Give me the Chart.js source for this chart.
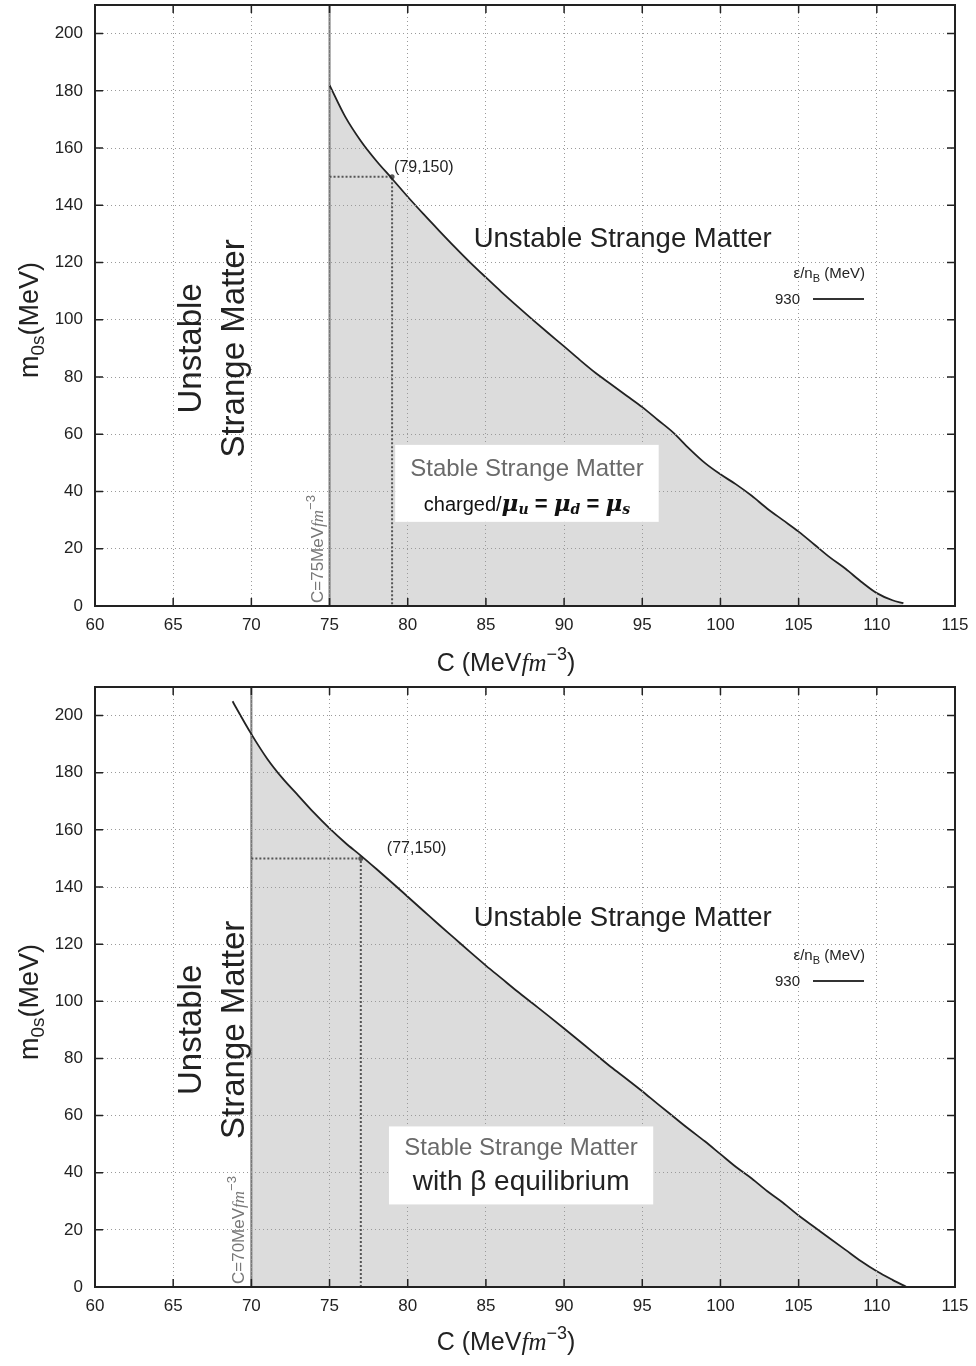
<!DOCTYPE html>
<html lang="en">
<head>
<meta charset="UTF-8">
<title>Strange matter stability window</title>
<script src="https://cdn.jsdelivr.net/npm/chart.js"></script>
<style>
  body { margin: 0; background: #fff; }
  canvas { display: block; }
</style>
</head>
<body>
<canvas id="topChart" width="976" height="683"></canvas>
<canvas id="bottomChart" width="976" height="683"></canvas>
<script>
// axis ticks
const xTicks = [60, 65, 70, 75, 80, 85, 90, 95, 100, 105, 110, 115];
const yTicks = [0, 20, 40, 60, 80, 100, 120, 140, 160, 180, 200];

// upper panel: charged, mu_u = mu_d = mu_s
const topC = [75, 76, 77, 78, 79, 80, 81, 82, 83, 84, 85, 86, 87, 88, 89, 90, 91, 92, 93, 94, 95,
              96, 97, 98, 99, 100, 101, 102, 103, 104, 105, 106, 107, 108, 109, 110, 111, 111.7];
const topM0s = [182, 171, 162.5, 155.5, 149.3, 143, 137, 131.2, 125.5, 120, 114.8, 109.7, 104.8, 100, 95.3, 90.7, 86, 81.5, 77.5, 73.5, 69.5,
                65, 60.5, 55, 50, 46, 42.5, 38.5, 34, 30, 26, 21.5, 17, 13, 8.5, 4.5, 2, 1];
const topThreshold = 75;
const topMarker = [79, 150];

// lower panel: beta equilibrium
const botC = [68.8, 69, 70, 71, 72, 73, 74, 75, 76, 77, 78, 79, 80, 81, 82, 83, 84, 85, 86, 87, 88, 89, 90,
              91, 92, 93, 94, 95, 96, 97, 98, 99, 100, 101, 102, 103, 104, 105, 106, 107, 108, 109, 110, 111, 111.9];
const botM0s = [205, 203, 193.5, 185, 178, 172, 166, 160.5, 155.5, 151, 146.3, 141.5, 136.6, 131.7, 126.8, 122, 117.2, 112.5, 108, 103.5, 99.2, 94.9, 90.5,
                86, 81.5, 77, 72.8, 68.5, 64, 59.6, 55.2, 51, 46.5, 42, 38, 33.5, 29.5, 25, 21, 17, 13, 9, 5.5, 2.5, 0];
const botThreshold = 70;
const botMarker = [77, 150];

const legendValue = '930';

const SANS = '"Liberation Sans", Arial, sans-serif';
const SERIF = '"Liberation Serif", serif';

function drawRich(ctx, segs, x, y, align) {
    let w = 0;
    segs.forEach(s => { ctx.font = s.font; s.w = ctx.measureText(s.text).width; w += s.w; });
    let cx = align === 'center' ? x - w / 2 : align === 'right' ? x - w : x;
    ctx.textAlign = 'left';
    ctx.textBaseline = 'alphabetic';
    segs.forEach(s => {
        ctx.font = s.font;
        ctx.fillStyle = s.color || '#222';
        ctx.fillText(s.text, cx, y + (s.dy || 0));
        cx += s.w;
    });
}

const annotPlugin = {
    id: 'annot',
    afterDraw(chart, args, o) {
        const ctx = chart.ctx, a = chart.chartArea;
        const px = v => chart.scales.x.getPixelForValue(v);
        const py = v => chart.scales.y.getPixelForValue(v);
        ctx.save();

        // white label box
        const bx0 = px(o.box[0]), bx1 = px(o.box[1]), by0 = py(o.box[2]), by1 = py(o.box[3]);
        ctx.fillStyle = '#fff';
        ctx.fillRect(bx0, by0, bx1 - bx0, by1 - by0);
        const bcx = (bx0 + bx1) / 2;
        drawRich(ctx, [{ text: 'Stable Strange Matter', font: '24px ' + SANS, color: '#6a6a6a' }], bcx, py(o.line1Y) + 8, 'center');
        drawRich(ctx, o.line2, bcx, py(o.line2Y) + 8, 'center');

        // frame and inward ticks
        ctx.strokeStyle = '#222';
        ctx.lineWidth = 2;
        ctx.strokeRect(a.left, a.top, a.right - a.left, a.bottom - a.top);
        ctx.lineWidth = 1.5;
        ctx.beginPath();
        xTicks.forEach(v => {
            const x = px(v);
            ctx.moveTo(x, a.bottom); ctx.lineTo(x, a.bottom - 8);
            ctx.moveTo(x, a.top); ctx.lineTo(x, a.top + 8);
        });
        yTicks.forEach(v => {
            const y = py(v);
            ctx.moveTo(a.left, y); ctx.lineTo(a.left + 8, y);
            ctx.moveTo(a.right, y); ctx.lineTo(a.right - 8, y);
        });
        ctx.stroke();

        // marker label
        drawRich(ctx, [{ text: '(' + o.marker[0] + ',' + o.marker[1] + ')', font: '16px ' + SANS }],
            px(o.marker[0]) + o.labelDx, py(o.marker[1]) - 5, 'left');

        // region labels
        drawRich(ctx, [{ text: 'Unstable Strange Matter', font: '27.5px ' + SANS }], px(o.unstable[0]), py(o.unstable[1]) + 10, 'center');
        ctx.save();
        ctx.translate(px(66), py(90));
        ctx.rotate(-Math.PI / 2);
        drawRich(ctx, [{ text: 'Unstable', font: '33px ' + SANS }], 0, 12, 'center');
        ctx.restore();
        ctx.save();
        ctx.translate(px(68.75), py(90));
        ctx.rotate(-Math.PI / 2);
        drawRich(ctx, [{ text: 'Strange Matter', font: '33px ' + SANS }], 0, 12, 'center');
        ctx.restore();

        // threshold label
        ctx.save();
        ctx.translate(px(o.threshold) - 13, a.bottom - 3);
        ctx.rotate(-Math.PI / 2);
        drawRich(ctx, [
            { text: 'C=' + o.threshold + 'MeV', font: '17px ' + SANS, color: '#777' },
            { text: 'fm', font: 'italic 17px ' + SERIF, color: '#777' },
            { text: '\u22123', font: '13px ' + SANS, color: '#777', dy: -8 }
        ], 0, 6, 'left');
        ctx.restore();

        // legend
        const lx = a.right - 90;
        drawRich(ctx, [
            { text: '\u03b5/n', font: '15px ' + SANS },
            { text: 'B', font: '11px ' + SANS, dy: 4 },
            { text: ' (MeV)', font: '15px ' + SANS }
        ], lx, a.top + 273, 'right');
        drawRich(ctx, [{ text: legendValue, font: '15px ' + SANS }], lx - 65, a.top + 299, 'right');
        ctx.strokeStyle = '#333';
        ctx.lineWidth = 2;
        ctx.beginPath();
        ctx.moveTo(lx - 52, a.top + 294);
        ctx.lineTo(lx - 1, a.top + 294);
        ctx.stroke();

        // axis titles
        drawRich(ctx, [
            { text: 'C (MeV', font: '25px ' + SANS },
            { text: 'fm', font: 'italic 25px ' + SERIF },
            { text: '\u22123', font: '18px ' + SANS, dy: -11 },
            { text: ')', font: '25px ' + SANS }
        ], 506, a.bottom + o.titleDy, 'center');
        ctx.save();
        ctx.translate(28, a.top + 315);
        ctx.rotate(-Math.PI / 2);
        drawRich(ctx, [
            { text: 'm', font: '27px ' + SANS },
            { text: '0s', font: '19px ' + SANS, dy: 6 },
            { text: '(MeV)', font: '27px ' + SANS }
        ], 0, 10, 'center');
        ctx.restore();

        ctx.restore();
    }
};

function buildChart(id, C, M, thr, marker, padTop, axisH, annot) {
    const curve = C.map((c, i) => ({ x: c, y: M[i] }));
    const shaded = curve.filter(p => p.x >= thr);
    const axisFont = { family: SANS, size: 17 };
    return new Chart(document.getElementById(id), {
        type: 'line',
        data: {
            datasets: [
                { data: curve, borderColor: '#222', borderWidth: 1.8, pointRadius: 0, fill: false,
                  cubicInterpolationMode: 'monotone', order: 0 },
                { data: [{ x: thr, y: marker[1] }, { x: marker[0], y: marker[1] }, { x: marker[0], y: 0 }],
                  borderColor: '#555', borderWidth: 2, borderDash: [2, 2], fill: false,
                  pointRadius: [0, 2.5, 0], pointBackgroundColor: '#555', pointBorderWidth: 0, order: 1 },
                { data: [{ x: thr, y: 0 }, { x: thr, y: 210 }], borderColor: '#777', borderWidth: 2,
                  pointRadius: 0, fill: false, order: 2 },
                { data: shaded, borderWidth: 0, borderColor: 'rgba(0,0,0,0)', backgroundColor: '#dcdcdc',
                  pointRadius: 0, fill: 'origin', cubicInterpolationMode: 'monotone', order: 3 }
            ]
        },
        options: {
            responsive: false,
            animation: false,
            layout: { autoPadding: false, padding: { left: 0, right: 21, top: padTop, bottom: 0 } },
            plugins: { legend: { display: false }, tooltip: { enabled: false }, annot: annot },
            scales: {
                x: {
                    type: 'linear', min: 60, max: 115,
                    afterBuildTicks: s => { s.ticks = xTicks.map(v => ({ value: v })); },
                    afterFit: s => { s.height = axisH; s.paddingLeft = 0; s.paddingRight = 0; },
                    grid: { color: '#9a9a9a', lineWidth: 1, drawTicks: false, z: 1 },
                    border: { display: false, dash: [1, 3] },
                    ticks: { padding: 9, color: '#222', font: axisFont }
                },
                y: {
                    type: 'linear', min: 0, max: 210,
                    afterBuildTicks: s => { s.ticks = yTicks.map(v => ({ value: v })); },
                    afterFit: s => { s.width = 95; s.paddingTop = 0; s.paddingBottom = 0; },
                    grid: { color: '#9a9a9a', lineWidth: 1, drawTicks: false, z: 1 },
                    border: { display: false, dash: [1, 3] },
                    ticks: { padding: 12, color: '#222', font: axisFont }
                }
            }
        },
        plugins: [annotPlugin]
    });
}

const muFont = 'bold italic 23px "DejaVu Serif", serif';
const subFont = 'bold italic 14px "DejaVu Serif", serif';
const eqFont = 'bold 22px ' + SANS;

buildChart('topChart', topC, topM0s, topThreshold, topMarker, 5, 77, {
    threshold: topThreshold, marker: topMarker, labelDx: 2, titleDy: 65,
    unstable: [93.75, 129],
    box: [79.2, 96.05, 56.3, 29.4], line1Y: 48.3, line2Y: 36,
    line2: [
        { text: 'charged/', font: '20px ' + SANS, color: '#111' },
        { text: '\u03bc', font: muFont, color: '#111' }, { text: 'u', font: subFont, color: '#111', dy: 3 },
        { text: ' = ', font: eqFont, color: '#111' },
        { text: '\u03bc', font: muFont, color: '#111' }, { text: 'd', font: subFont, color: '#111', dy: 3 },
        { text: ' = ', font: eqFont, color: '#111' },
        { text: '\u03bc', font: muFont, color: '#111' }, { text: 's', font: subFont, color: '#111', dy: 3 }
    ]
});

buildChart('bottomChart', botC, botM0s, botThreshold, botMarker, 4, 79, {
    threshold: botThreshold, marker: botMarker, labelDx: 26, titleDy: 63,
    unstable: [93.75, 130],
    box: [78.8, 95.7, 56.2, 28.9], line1Y: 49, line2Y: 36.75,
    line2: [{ text: 'with \u03b2 equilibrium', font: '28px ' + SANS, color: '#222' }]
});
</script>
</body>
</html>
